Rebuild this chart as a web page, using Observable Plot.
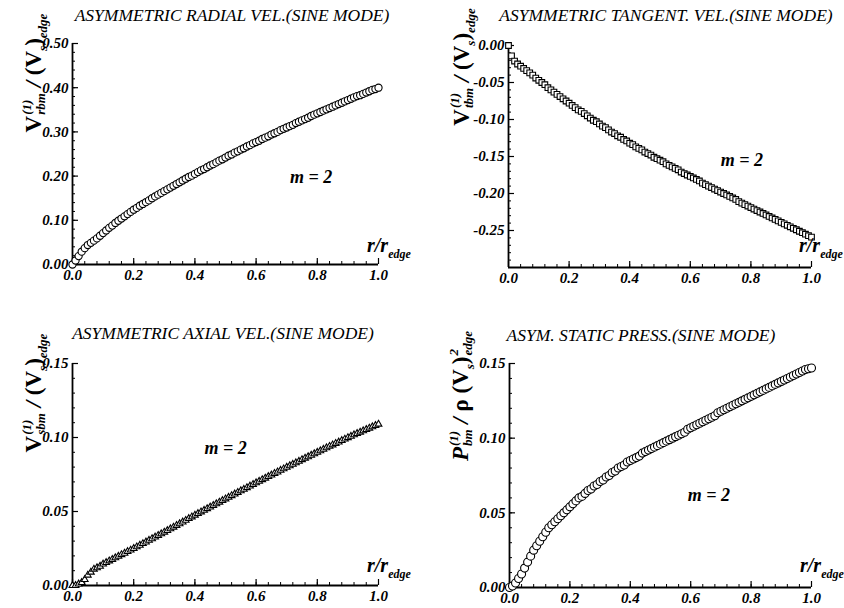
<!DOCTYPE html>
<html><head><meta charset="utf-8">
<script src="https://cdn.jsdelivr.net/npm/d3@7"></script>
<script src="https://cdn.jsdelivr.net/npm/@observablehq/plot@0.6"></script>
<style>
body{margin:0;background:#fff;}
#root{position:relative;width:844px;height:608px;overflow:hidden;font-family:Liberation Serif, Times New Roman, serif;color:#000;}
.plot{position:absolute;}
.ttl{position:absolute;font-style:italic;font-size:17.5px;white-space:nowrap;transform:translate(-50%,-50%);}
.ylab{position:absolute;font-weight:bold;font-size:23px;white-space:nowrap;transform:translate(-50%,-50%) rotate(-90deg);}
.st{display:inline-flex;flex-direction:column;font-size:13px;font-style:italic;line-height:14px;vertical-align:10px;margin-left:1px;}
.sb{font-size:13px;font-style:italic;vertical-align:-6px;}
.rl{position:absolute;font-weight:bold;font-style:italic;font-size:20px;white-space:nowrap;}
.rl .sb{font-size:12px;vertical-align:-6px;}
</style></head>
<body><div id="root"></div>
<script>
const r = [0,0.01,0.02,0.03,0.04,0.05,0.06,0.07,0.08,0.09,0.1,0.11,0.12,0.13,0.14,0.15,0.16,0.17,0.18,0.19,0.2,0.21,0.22,0.23,0.24,0.25,0.26,0.27,0.28,0.29,0.3,0.31,0.32,0.33,0.34,0.35,0.36,0.37,0.38,0.39,0.4,0.41,0.42,0.43,0.44,0.45,0.46,0.47,0.48,0.49,0.5,0.51,0.52,0.53,0.54,0.55,0.56,0.57,0.58,0.59,0.6,0.61,0.62,0.63,0.64,0.65,0.66,0.67,0.68,0.69,0.7,0.71,0.72,0.73,0.74,0.75,0.76,0.77,0.78,0.79,0.8,0.81,0.82,0.83,0.84,0.85,0.86,0.87,0.88,0.89,0.9,0.91,0.92,0.93,0.94,0.95,0.96,0.97,0.98,0.99,1];

const radial = [0,0.009,0.019,0.029,0.037,0.044,0.049,0.054,0.059,0.065,
0.071,0.077,0.083,0.088,0.094,0.099,0.104,0.109,0.114,0.119,
0.124,0.128,0.133,0.137,0.141,0.145,0.150,0.154,0.158,0.162,
0.166,0.170,0.174,0.178,0.182,0.186,0.190,0.194,0.198,0.201,
0.205,0.209,0.213,0.216,0.220,0.224,0.227,0.231,0.235,0.238,
0.242,0.246,0.249,0.253,0.256,0.260,0.263,0.267,0.270,0.274,
0.277,0.280,0.284,0.287,0.290,0.294,0.297,0.300,0.304,0.307,
0.310,0.313,0.316,0.320,0.323,0.326,0.329,0.332,0.336,0.339,
0.342,0.345,0.348,0.351,0.354,0.357,0.360,0.363,0.366,0.369,
0.372,0.375,0.378,0.381,0.383,0.386,0.389,0.392,0.395,0.397,
0.400];

const tangent = [0,-0.014,-0.021,-0.025,-0.028,-0.031,-0.034,-0.037,-0.040,-0.044,
-0.047,-0.050,-0.053,-0.057,-0.060,-0.063,-0.066,-0.069,-0.072,-0.075,
-0.078,-0.081,-0.084,-0.087,-0.089,-0.092,-0.095,-0.098,-0.101,-0.103,
-0.106,-0.109,-0.111,-0.114,-0.117,-0.119,-0.122,-0.124,-0.127,-0.129,
-0.132,-0.134,-0.137,-0.139,-0.141,-0.144,-0.146,-0.148,-0.151,-0.153,
-0.155,-0.157,-0.160,-0.162,-0.164,-0.166,-0.168,-0.171,-0.173,-0.175,
-0.177,-0.179,-0.181,-0.183,-0.186,-0.188,-0.190,-0.192,-0.194,-0.196,
-0.198,-0.200,-0.202,-0.204,-0.206,-0.208,-0.211,-0.213,-0.215,-0.217,
-0.219,-0.221,-0.223,-0.225,-0.227,-0.229,-0.231,-0.233,-0.235,-0.237,
-0.239,-0.241,-0.243,-0.245,-0.247,-0.249,-0.251,-0.253,-0.255,-0.257,
-0.259];

const axial = [0,0.000,0.001,0.002,0.004,0.007,0.009,0.011,0.012,0.013,
0.0145,0.0155,0.0166,0.0176,0.0187,0.0197,0.0208,0.0218,0.0229,0.0239,
0.0250,0.0261,0.0272,0.0283,0.0294,0.0305,0.0316,0.0327,0.0338,0.0349,
0.0360,0.0371,0.0383,0.0394,0.0406,0.0417,0.0429,0.0440,0.0452,0.0463,
0.0475,0.0486,0.0497,0.0508,0.0519,0.0530,0.0541,0.0552,0.0563,0.0574,
0.0585,0.0596,0.0607,0.0618,0.0629,0.0640,0.0650,0.0661,0.0672,0.0683,
0.0694,0.0704,0.0715,0.0725,0.0736,0.0746,0.0757,0.0767,0.0778,0.0788,
0.0799,0.0809,0.0819,0.0829,0.0839,0.0850,0.0860,0.0870,0.0880,0.0890,
0.0900,0.0910,0.0920,0.0930,0.0940,0.0950,0.0960,0.0969,0.0979,0.0989,
0.0999,0.1008,0.1018,0.1027,0.1036,0.1045,0.1054,0.1063,0.1072,0.1081,
0.1090];

const pressure = [0,0.001,0.003,0.006,0.009,0.013,0.017,0.021,0.025,0.028,
0.031,0.034,0.037,0.040,0.042,0.044,0.046,0.048,0.050,0.052,
0.054,0.056,0.058,0.060,0.061,0.063,0.065,0.066,0.068,0.069,
0.071,0.072,0.074,0.075,0.077,0.078,0.080,0.081,0.082,0.084,
0.085,0.086,0.087,0.088,0.090,0.091,0.092,0.093,0.094,0.095,
0.096,0.097,0.098,0.099,0.100,0.101,0.102,0.103,0.104,0.106,
0.107,0.108,0.109,0.110,0.111,0.112,0.113,0.114,0.115,0.117,
0.118,0.119,0.120,0.121,0.122,0.123,0.124,0.125,0.126,0.127,
0.128,0.129,0.130,0.131,0.132,0.133,0.134,0.135,0.136,0.137,
0.138,0.139,0.140,0.141,0.142,0.143,0.144,0.145,0.146,0.1465,
0.147];

const xTicks = [0, 0.2, 0.4, 0.6, 0.8, 1.0];
const xTickLabels = ["0.0", "0.2", "0.4", "0.6", "0.8", "1.0"];
const yTicksRadial = [0, 0.1, 0.2, 0.3, 0.4, 0.5];
const yLabelsRadial = ["0.00", "0.10", "0.20", "0.30", "0.40", "0.50"];
const yTicksTangent = [0, -0.05, -0.10, -0.15, -0.20, -0.25];
const yLabelsTangent = ["0.00", "-0.05", "-0.10", "-0.15", "-0.20", "-0.25"];
const yTicksSmall = [0, 0.05, 0.10, 0.15];
const yLabelsSmall = ["0.00", "0.05", "0.10", "0.15"];

const titles = ["ASYMMETRIC RADIAL VEL.(SINE MODE)", "ASYMMETRIC TANGENT. VEL.(SINE MODE)",
                "ASYMMETRIC AXIAL VEL.(SINE MODE)", "ASYM. STATIC PRESS.(SINE MODE)"];
const modeLabel = "m = 2";

const root = document.getElementById("root");
const FONT = "Liberation Serif, Times New Roman, serif";

function panel(o) {
  const {left, top, width, height, mL, mR, mT, mB, yDomain, yTicks, yLabels, yMinorStep, data, symbol, rad, mx, my} = o;
  const [y0, y1] = yDomain;
  const kx = 1 / (width - mL - mR);
  const ky = (y1 - y0) / (height - mT - mB);
  const pts = r.map((x, i) => ({x, y: data[i]}));
  const yMinor = d3.range(Math.round((y1 - y0) / yMinorStep) + 1).map(i => y0 + i * yMinorStep);
  const xMinor = d3.range(26).map(i => i * 0.04);
  const svg = Plot.plot({
    width, height, marginLeft: mL, marginRight: mR, marginTop: mT, marginBottom: mB,
    x: {domain: [0, 1], axis: null},
    y: {domain: yDomain, axis: null},
    style: {fontFamily: FONT, fontWeight: "bold", fontStyle: "italic", fontSize: "15px", background: "transparent", overflow: "visible", color: "#000"},
    marks: [
      Plot.ruleY(yMinor, {y: d => d, x1: 0, x2: 3 * kx, stroke: "#000", strokeWidth: 1}),
      Plot.ruleY(yTicks, {y: d => d, x1: 0, x2: 6 * kx, stroke: "#000", strokeWidth: 1.2}),
      Plot.ruleX(xMinor, {x: d => d, y1: y0, y2: y0 + 3 * ky, stroke: "#000", strokeWidth: 1}),
      Plot.ruleX(xTicks, {x: d => d, y1: y0, y2: y0 + 6 * ky, stroke: "#000", strokeWidth: 1.2}),
      Plot.ruleX([0], {y1: y0, y2: y1, stroke: "#000", strokeWidth: 1.8}),
      Plot.ruleY([y0], {x1: 0, x2: 1, stroke: "#000", strokeWidth: 1.8}),
      Plot.text(yTicks, {x: 0, y: d => d, text: (d, i) => yLabels[i], textAnchor: "end", dx: -4, fill: "#000", fontFamily: FONT}),
      Plot.text(xTicks, {x: d => d, y: y0, text: (d, i) => xTickLabels[i], dy: 11, fill: "#000", fontFamily: FONT}),
      Plot.dot(pts, {x: "x", y: "y", symbol, r: rad, stroke: "#000", fill: "#fff", strokeWidth: 1.1}),
      Plot.text([modeLabel], {x: mx, y: my, text: d => d, fontSize: 18, fill: "#000", fontFamily: FONT})
    ]
  });
  svg.classList.add("plot");
  svg.style.left = left + "px";
  svg.style.top = top + "px";
  root.appendChild(svg);
}

panel({left: 0, top: 0, width: 422, height: 300, mL: 72, mR: 44, mT: 43, mB: 36,
  yDomain: [0, 0.5], yTicks: yTicksRadial, yLabels: yLabelsRadial, yMinorStep: 0.02,
  data: radial, symbol: "circle", rad: 3.6, mx: 0.78, my: 0.197});
panel({left: 422, top: 0, width: 422, height: 300, mL: 86, mR: 33, mT: 45, mB: 33,
  yDomain: [-0.30, 0], yTicks: yTicksTangent, yLabels: yLabelsTangent, yMinorStep: 0.01,
  data: tangent, symbol: "square", rad: 3.2, mx: 0.77, my: -0.155});
panel({left: 0, top: 300, width: 422, height: 308, mL: 72, mR: 44, mT: 63, mB: 23,
  yDomain: [0, 0.15], yTicks: yTicksSmall, yLabels: yLabelsSmall, yMinorStep: 0.01,
  data: axial, symbol: "triangle", rad: 2.5, mx: 0.50, my: 0.093});
panel({left: 422, top: 300, width: 422, height: 308, mL: 87, mR: 33, mT: 63, mB: 21,
  yDomain: [0, 0.15], yTicks: yTicksSmall, yLabels: yLabelsSmall, yMinorStep: 0.01,
  data: pressure, symbol: "circle", rad: 4, mx: 0.66, my: 0.062});

function addHTML(cls, html, x, y) {
  const d = document.createElement("div");
  d.className = cls;
  d.innerHTML = html;
  d.style.left = x + "px";
  d.style.top = y + "px";
  root.appendChild(d);
}
const st = (a, b) => `<span class="st"><span>${a}</span><span>${b}</span></span>`;
const sb = a => `<span class="sb">${a}</span>`;

addHTML("ttl", titles[0], 232, 15);
addHTML("ttl", titles[1], 666, 15);
addHTML("ttl", titles[2], 223, 333);
addHTML("ttl", titles[3], 641, 335);

addHTML("ylab", `V${st("(1)", "rbm")} <i>/</i> (V${sb("s")})${sb("edge")}`, 35, 73);
addHTML("ylab", `V${st("(1)", "tbm")} <i>/</i> (V${sb("s")})${sb("edge")}`, 463, 67);
addHTML("ylab", `V${st("(1)", "sbm")} <i>/</i> (V${sb("s")})${sb("edge")}`, 35, 393);
addHTML("ylab", `<i>P</i>${st("(1)", "bm")} <i>/</i> ρ (V${sb("s")})${st("2", "edge")}`, 462, 396);

const rlab = `r/r${sb("edge")}`;
addHTML("rl", rlab, 367, 234);
addHTML("rl", rlab, 799, 234);
addHTML("rl", rlab, 367, 554);
addHTML("rl", rlab, 800, 554);
</script></body></html>
